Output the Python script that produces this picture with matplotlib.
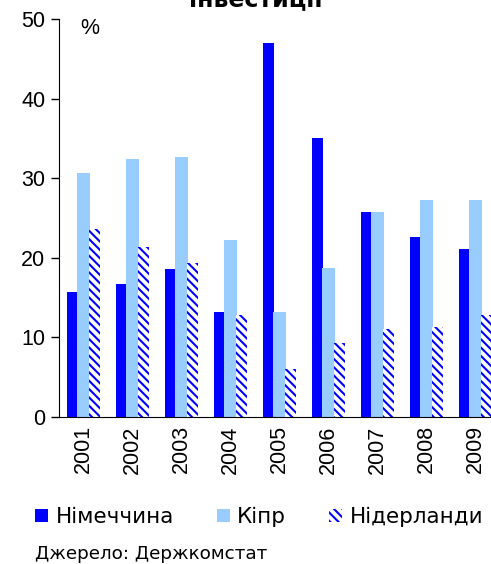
import numpy as np
import matplotlib.pyplot as plt

years = ['2001', '2002', '2003', '2004', '2005', '2006', '2007', '2008', '2009']
germany = [15.7, 16.7, 18.6, 13.2, 47.0, 35.0, 25.8, 22.6, 21.1]
cyprus = [30.7, 32.4, 32.7, 22.2, 13.2, 18.7, 25.8, 27.3, 27.3]
netherlands = [23.6, 21.4, 19.3, 12.8, 6.0, 9.3, 11.1, 11.3, 12.8]

plt.rcParams['hatch.linewidth'] = 1.5

fig = plt.figure(figsize=(4.91, 5.64), dpi=100)
ax = fig.add_axes([0.1202, 0.2606, 0.898, 0.7057])

x = np.arange(len(years))
b1 = ax.bar(x - 0.23, germany, width=0.22, color='#0000FF', label='Німеччина')
b2 = ax.bar(x, cyprus, width=0.26, color='#99CCFF', label='Кіпр')
b3 = ax.bar(x + 0.23, netherlands, width=0.22, color='white', edgecolor='#0000FF',
            linewidth=0, hatch='\\\\\\\\', label='Нідерланди')

ax.set_xlim(-0.5, len(years) - 0.5)
ax.set_ylim(0, 50)
ax.set_yticks([0, 10, 20, 30, 40, 50])
ax.set_xticks(x)
ax.set_xticklabels(years, rotation=90, family='Liberation Sans', fontsize=15.5)
for lab in ax.get_yticklabels():
    lab.set_family('Liberation Sans')
    lab.set_fontsize(15.5)
ax.tick_params(axis='y', direction='out', length=6, width=1, pad=4)
ax.tick_params(axis='x', length=0, pad=6)
ax.spines['top'].set_visible(False)
ax.spines['right'].set_visible(False)

ax.text(0.048, 0.975, '%', transform=ax.transAxes, ha='left', va='center',
        family='Liberation Sans', fontsize=15.5)

# title sits mostly above the figure edge, as in the original
fig.text(0.521, 0.988, 'інвестиції', ha='center', va='baseline',
         fontweight='bold', fontsize=17)

fig.legend(handles=[b1, b2, b3], loc='center left', bbox_to_anchor=(35 / 491, 1 - 517 / 564),
           ncol=3, frameon=False, fontsize=15.5, handlelength=0.6, handleheight=0.6,
           handletextpad=0.35, columnspacing=2.0, borderpad=0, borderaxespad=0)

fig.text(35 / 491, 1 - 559 / 564, 'Джерело: Держкомстат', ha='left', va='baseline',
         fontsize=13.2)

fig.savefig('out.png', dpi=100)
